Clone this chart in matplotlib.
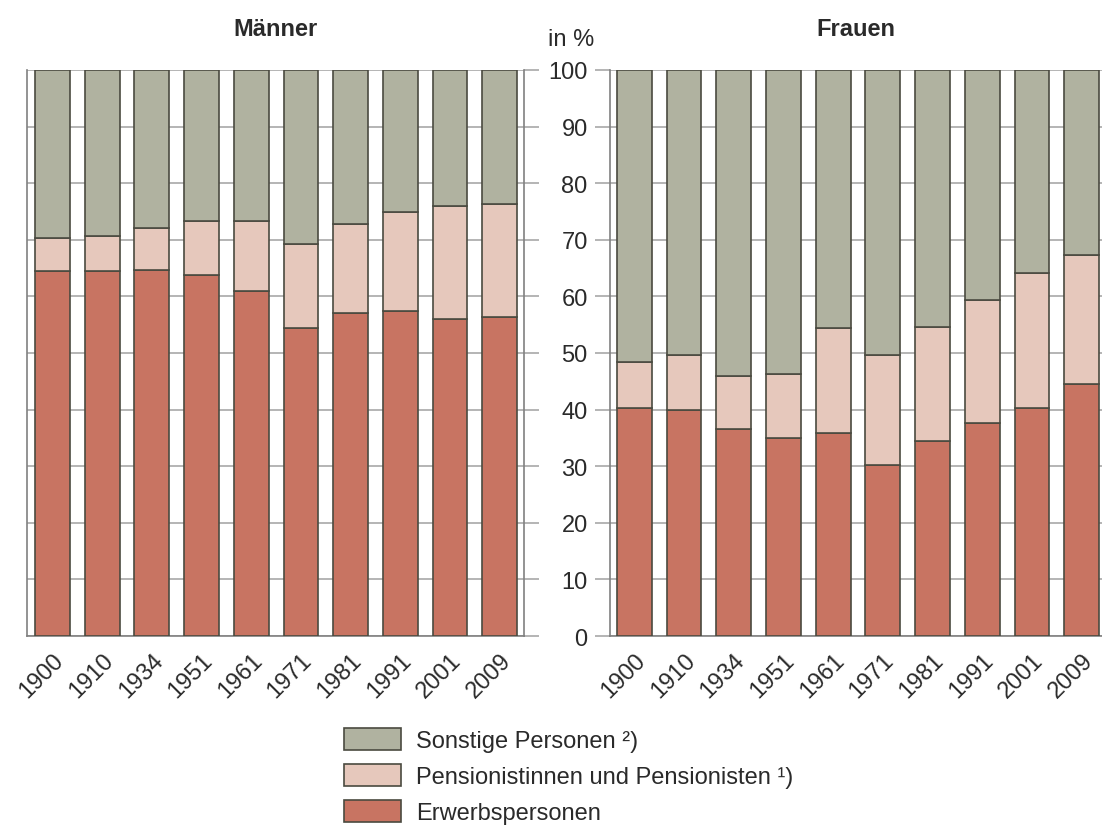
import numpy as np
import matplotlib.pyplot as plt
from matplotlib.patches import Patch

plt.rcParams['font.family'] = ['Liberation Sans', 'DejaVu Sans']

years = ['1900', '1910', '1934', '1951', '1961', '1971', '1981', '1991', '2001', '2009']

# Anteile in %
maenner_erwerb = [64.4, 64.4, 64.7, 63.8, 61.0, 54.5, 57.1, 57.5, 56.0, 56.4]
maenner_pension = [6.0, 6.2, 7.3, 9.6, 12.4, 14.8, 15.6, 17.4, 19.9, 19.9]
frauen_erwerb = [40.3, 40.0, 36.5, 34.9, 35.9, 30.2, 34.5, 37.6, 40.2, 44.6]
frauen_pension = [8.1, 9.6, 9.4, 11.4, 18.5, 19.5, 20.1, 21.8, 23.9, 22.7]

legend_labels = ['Sonstige Personen \u00b2)', 'Pensionistinnen und Pensionisten \u00b9)', 'Erwerbspersonen']

c_sonst = '#b0b2a0'
c_pens = '#e6c8bc'
c_erw = '#c87462'
edge = '#4a4a40'
grid_c = '#a8a8a8'
txt_c = '#2a2a2a'
fs = 17


def draw_panel(ax, erwerb, pension, title, right_side):
    x = np.arange(len(years))
    erwerb = np.array(erwerb)
    pension = np.array(pension)
    sonst = 100 - erwerb - pension
    kw = dict(width=0.7, edgecolor=edge, linewidth=1.2, zorder=3)
    ax.bar(x, erwerb, color=c_erw, **kw)
    ax.bar(x, pension, bottom=erwerb, color=c_pens, **kw)
    ax.bar(x, sonst, bottom=erwerb + pension, color=c_sonst, **kw)
    ax.set_ylim(0, 100)
    ax.set_yticks(range(0, 101, 10))
    ax.grid(axis='y', color=grid_c, linewidth=1.2, zorder=0)
    ax.set_xticks(x)
    ax.set_xticklabels(years, rotation=45, ha='right', rotation_mode='anchor',
                       fontsize=fs, color=txt_c)
    ax.tick_params(axis='x', length=0, pad=9)
    for s in ax.spines.values():
        s.set_color('#808080')
        s.set_linewidth(1.2)
    ax.spines['top'].set_visible(False)
    if right_side:
        ax.spines['right'].set_visible(False)
        ax.tick_params(axis='y', left=True, right=False, labelleft=True, length=11,
                       color=grid_c, width=1.2, pad=5, labelsize=fs, labelcolor=txt_c)
    else:
        ax.tick_params(axis='y', left=False, right=True, labelleft=False, length=11,
                       color=grid_c, width=1.2)
    ax.set_title(title, fontsize=fs, fontweight='bold', pad=25, color=txt_c)


fig = plt.figure(figsize=(11.02, 8.29), dpi=100)
ax1 = fig.add_axes([0.0242, 0.2316, 0.4513, 0.6828])
ax2 = fig.add_axes([0.5535, 0.2316, 0.4465, 0.6828])

draw_panel(ax1, maenner_erwerb, maenner_pension, 'Männer', False)
ax1.set_xlim(-0.52, 9.49)
draw_panel(ax2, frauen_erwerb, frauen_pension, 'Frauen', True)
ax2.set_xlim(-0.49, 9.41)

fig.text(571 / 1102, 1 - 40 / 829, 'in %', fontsize=fs, ha='center', va='center', color=txt_c)

handles = [Patch(facecolor=c, edgecolor=edge, linewidth=1.2) for c in (c_sonst, c_pens, c_erw)]
fig.legend(handles, legend_labels, loc='upper left', bbox_to_anchor=(344 / 1102, 1 - 729 / 829),
           frameon=False, fontsize=fs, handlelength=2.4, handleheight=1.05,
           handletextpad=0.65, labelspacing=0.5, borderpad=0, borderaxespad=0,
           labelcolor=txt_c)

plt.savefig('out.png', dpi=100)
